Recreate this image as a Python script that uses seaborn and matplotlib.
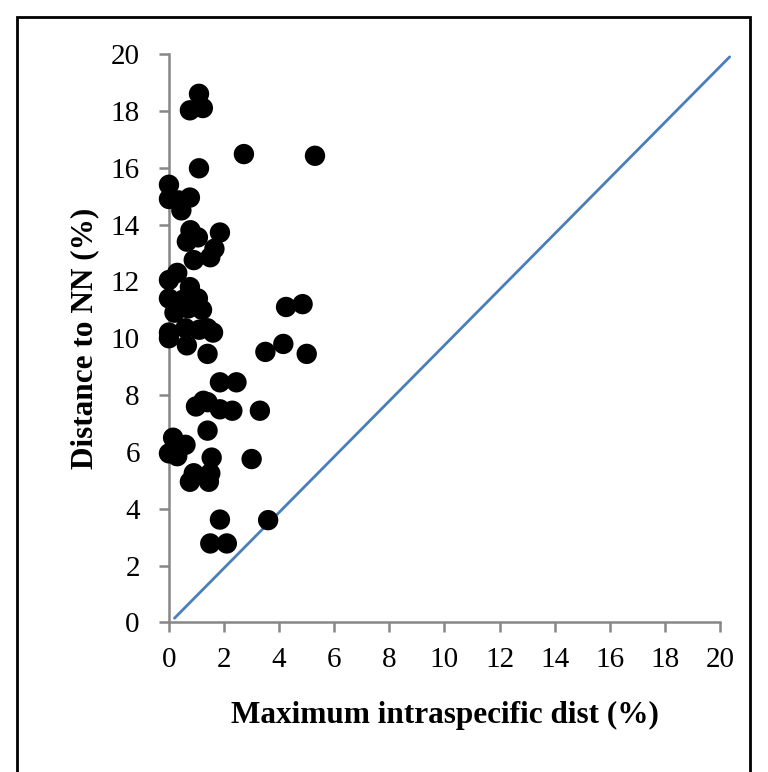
import matplotlib
matplotlib.use("Agg")
import matplotlib.pyplot as plt
import seaborn as sns
import pandas as pd
from matplotlib.patches import Rectangle

max_intra = [1.09, 0.76, 1.23, 2.72, 5.30, 1.09, 0.00, 0.00, 0.35, 0.76, 0.45,
             0.78, 1.05, 0.65, 1.85, 1.65, 1.50, 0.90, 0.00, 0.30, 0.76, 0.00,
             0.50, 1.05, 0.70, 0.20, 0.00, 0.00, 0.60, 1.10, 1.40, 1.60, 0.65,
             1.40, 4.25, 4.85, 3.50, 4.15, 5.00, 1.85, 2.45, 0.98, 1.25, 1.40,
             1.85, 2.30, 3.30, 1.40, 0.15, 0.60, 0.00, 0.30, 1.55, 3.00, 0.90,
             1.50, 0.76, 1.45, 1.85, 3.60, 1.50, 2.10, 1.20, 0.30]
dist_nn = [18.60, 18.02, 18.10, 16.48, 16.42, 15.98, 15.40, 14.90, 14.85, 14.95, 14.50,
           13.80, 13.55, 13.40, 13.72, 13.15, 12.85, 12.75, 12.05, 12.30, 11.80, 11.40,
           11.35, 11.40, 11.05, 10.90, 10.20, 10.00, 10.35, 10.30, 10.35, 10.20, 9.75,
           9.45, 11.10, 11.20, 9.52, 9.80, 9.45, 8.45, 8.45, 7.60, 7.80, 7.75,
           7.50, 7.45, 7.45, 6.75, 6.50, 6.25, 5.95, 5.85, 5.80, 5.75, 5.25,
           5.25, 4.95, 4.95, 3.62, 3.60, 2.78, 2.78, 11.00, 11.20]

ref_x = [0.2, 20.35]
ref_y = [0.15, 19.9]

ticks = [0, 2, 4, 6, 8, 10, 12, 14, 16, 18, 20]

df = pd.DataFrame({"x": max_intra, "y": dist_nn})

sns.set_theme(style="white")
plt.rcParams["font.family"] = ["Liberation Serif", "DejaVu Serif"]

fig = plt.figure(figsize=(7.68, 7.72), dpi=100)
ax = fig.add_axes([0.22, 0.1937, 0.7175, 0.7363])

sns.lineplot(x=ref_x, y=ref_y, ax=ax, color="#4A7EBB", linewidth=2, zorder=2)
for ln in ax.lines:
    ln.set_clip_on(False)
sns.scatterplot(data=df, x="x", y="y", ax=ax, color="black", s=215,
                edgecolor="none", zorder=3, clip_on=False)

ax.set_xlim(0, 20)
ax.set_ylim(0, 20)
ax.set_xticks(ticks)
ax.set_yticks(ticks)
ax.set_xticklabels([str(t) for t in ticks], fontsize=21, color="black")
ax.set_yticklabels([str(t) for t in ticks], fontsize=21, color="black")
for s in ["top", "right"]:
    ax.spines[s].set_visible(False)
for s in ["left", "bottom"]:
    ax.spines[s].set_color("#878787")
    ax.spines[s].set_linewidth(1.8)
ax.tick_params(axis="both", direction="out", length=7, width=1.8,
               color="#878787", labelcolor="black",
               bottom=True, left=True)
ax.tick_params(axis="x", pad=11)
ax.tick_params(axis="y", pad=14)
ax.set_xlabel("Maximum intraspecific dist (%)", fontsize=22.5, fontweight="bold",
              labelpad=20, color="black")
ax.set_ylabel("Distance to NN (%)", fontsize=22.5, fontweight="bold", labelpad=8,
              color="black")

fig.patches.append(Rectangle((17 / 768, -0.05), 733 / 768, 1.05 - 17 / 772,
                             transform=fig.transFigure, fill=False,
                             edgecolor="black", linewidth=2))

fig.savefig("out.png", dpi=100)
